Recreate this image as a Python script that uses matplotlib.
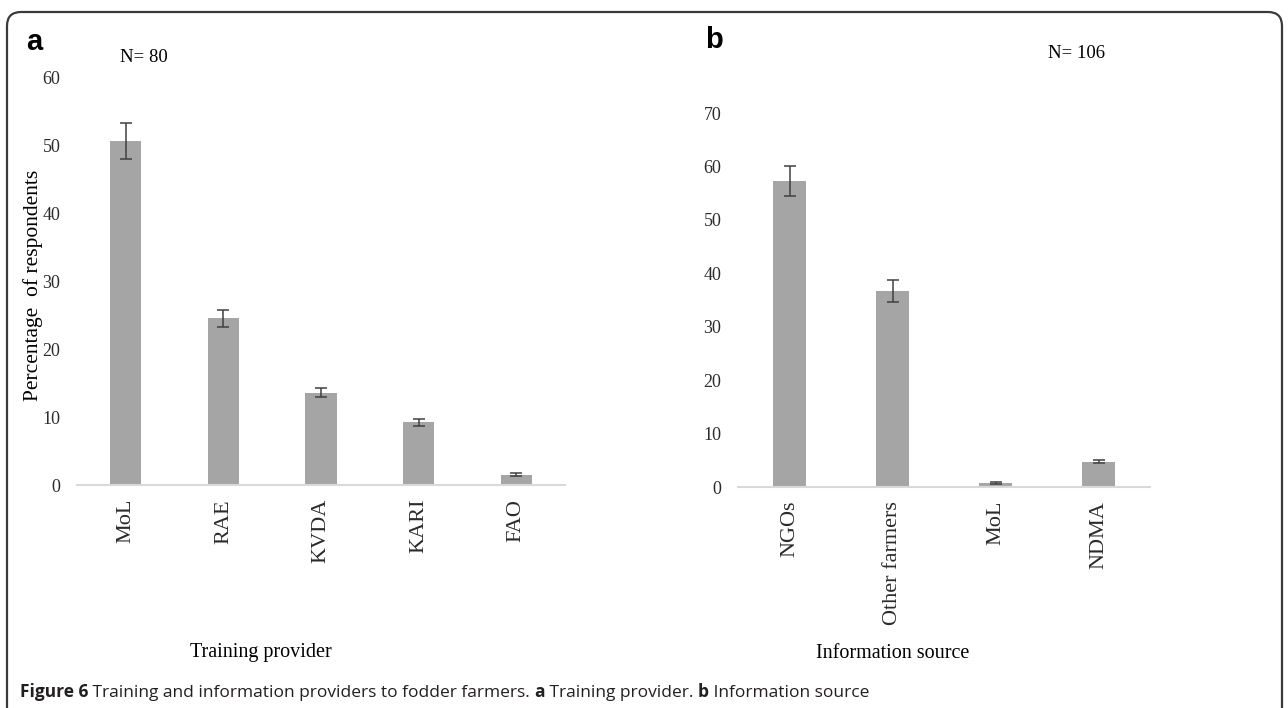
import matplotlib
matplotlib.use('Agg')
import matplotlib.pyplot as plt
from matplotlib.patches import FancyBboxPatch

# training providers (panel a)
providers = ['MoL', 'RAE', 'KVDA', 'KARI', 'FAO']
provider_pct = [50.6, 24.5, 13.6, 9.2, 1.5]
provider_err = [2.7, 1.3, 0.7, 0.5, 0.2]

# information sources (panel b)
sources = ['NGOs', 'Other farmers', 'MoL', 'NDMA']
source_pct = [57.3, 36.7, 0.7, 4.7]
source_err = [2.8, 2.0, 0.2, 0.3]

serif = 'Liberation Serif'
bar_col = '#a5a5a5'
err_col = '#404040'
tick_col = '#2b2b2b'

fig = plt.figure(figsize=(12.88, 7.08), dpi=100)

# background layer for the frame and caption
bg = fig.add_axes([0, 0, 1, 1])
bg.set_xlim(0, 1288)
bg.set_ylim(708, 0)
bg.axis('off')
frame = FancyBboxPatch((7, 12), 1275, 760, boxstyle='round,pad=0,rounding_size=14',
                       fc='none', ec='#3a3a3a', lw=1.6)
bg.add_patch(frame)


def bar_panel(rect, labels, vals, errs, ymax):
    ax = fig.add_axes(rect)
    x = range(len(labels))
    ax.bar(x, vals, width=0.32, color=bar_col, zorder=2)
    ax.errorbar(x, vals, yerr=errs, fmt='none', ecolor=err_col, elinewidth=1.1,
                capsize=4, capthick=1.1, zorder=3)
    ax.set_xlim(-0.5, len(labels) - 0.5)
    ax.set_ylim(0, ymax)
    ax.set_yticks(range(0, ymax + 1, 10))
    ax.set_xticks(list(x))
    ax.set_xticklabels(labels, rotation=90, fontfamily=serif, fontsize=16, color=tick_col)
    for t in ax.get_yticklabels():
        t.set_fontfamily(serif)
        t.set_fontsize(13)
        t.set_color(tick_col)
    ax.tick_params(axis='both', length=0)
    ax.tick_params(axis='y', pad=12)
    ax.tick_params(axis='x', pad=10)
    for s in ['top', 'right', 'left']:
        ax.spines[s].set_visible(False)
    ax.spines['bottom'].set_color('#d9d9d9')
    ax.spines['bottom'].set_linewidth(1.5)
    ax.set_facecolor('none')
    return ax


ax_a = bar_panel([77 / 1288, 1 - 485 / 708, 488 / 1288, 408 / 708],
                 providers, provider_pct, provider_err, 60)
ax_b = bar_panel([738 / 1288, 1 - 487 / 708, 412 / 1288, 374 / 708],
                 sources, source_pct, source_err, 70)

# axis titles and sample sizes
bg.text(33, 285, 'Percentage  of respondents', rotation=90, ha='center', va='center',
        fontfamily=serif, fontsize=15.5)
bg.text(261, 653, 'Training provider', ha='center', va='center', fontfamily=serif, fontsize=14.5)
bg.text(893, 653, 'Information source', ha='center', va='center', fontfamily=serif, fontsize=14.5)
bg.text(144, 57, 'N= 80', ha='center', va='center', fontfamily=serif, fontsize=13.5)
bg.text(1077, 53, 'N= 106', ha='center', va='center', fontfamily=serif, fontsize=13.5)

# panel letters
bg.text(26, 42, 'a', ha='left', va='center', fontfamily='Liberation Sans',
        fontweight='bold', fontsize=21)
bg.text(705, 40, 'b', ha='left', va='center', fontfamily='Liberation Sans',
        fontweight='bold', fontsize=21)

# caption, built from bold and regular runs
cap_font = dict(fontfamily='Open Sans', fontsize=12.5, color='#231f20')
runs = [('Figure 6', 'bold'),
        (' Training and information providers to fodder farmers. ', 'normal'),
        ('a', 'bold'),
        (' Training provider. ', 'normal'),
        ('b', 'bold'),
        (' Information source', 'normal')]
prev = bg.text(20, 697, runs[0][0], ha='left', va='baseline', fontweight=runs[0][1], **cap_font)
for txt, wt in runs[1:]:
    prev = bg.annotate(txt, xy=(1, 0), xycoords=prev, ha='left', va='bottom',
                       fontweight=wt, **cap_font)

fig.savefig('out.png', dpi=100)
